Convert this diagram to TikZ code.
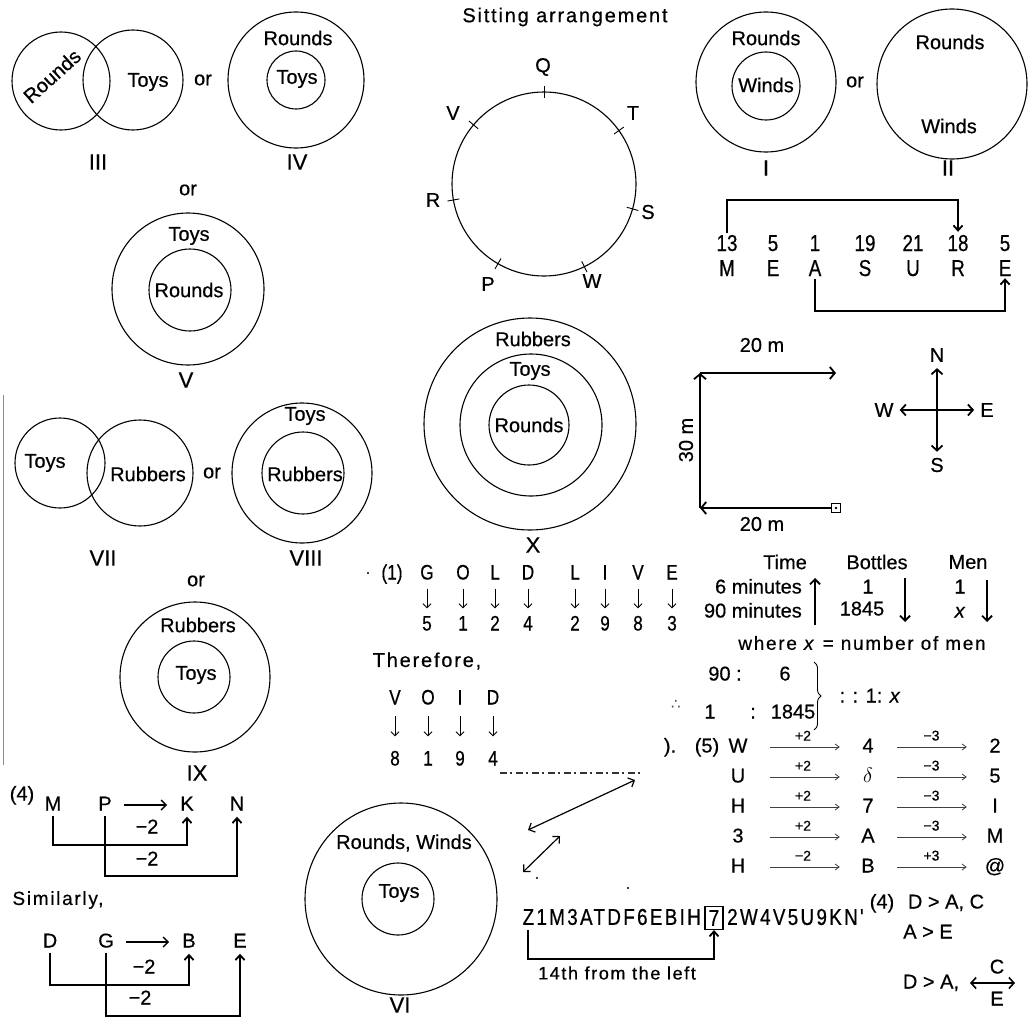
\documentclass[tikz,border=0pt]{standalone}
\usepackage{fontspec}
\setmainfont{Liberation Sans}[FakeBold=0.5]
\newfontfamily\symfont{DejaVu Sans}
\newfontfamily\narrowfont[FakeStretch=0.82,FakeBold=0.5]{Liberation Sans}
\newfontfamily\narrowspaced[FakeStretch=0.82,LetterSpace=10,FakeBold=0.5]{Liberation Sans}
\newfontfamily\spacedfont[LetterSpace=9,FakeBold=0.5]{Liberation Sans}
\usetikzlibrary{arrows.meta,calc,decorations.pathreplacing}

\begin{document}
\begin{tikzpicture}[x=1pt,y=-1pt,
  ring/.style={draw,line width=1.1pt},
  clabel/.style={font=\fontsize{20}{22}\selectfont,inner sep=0pt},
  roman/.style={font=\fontsize{22}{24}\selectfont,inner sep=0pt},
  tx/.style={font=\fontsize{20}{22}\selectfont,inner sep=0pt,text height=14pt,text depth=3pt},
  nar/.style={font=\fontsize{21}{23}\narrowfont,inner sep=0pt,text height=15pt,text depth=0pt},
  big nar/.style={font=\fontsize{23}{25}\narrowfont,inner sep=0pt,text height=16pt,text depth=0pt},
  sm/.style={font=\fontsize{14}{16}\selectfont,inner sep=0pt},
  barb/.style={line width=1.2pt,-{Straight Barb[length=5pt,width=10pt,line width=1.4pt]}},
  elbow/.style={line width=1.3pt,-{Straight Barb[length=5pt,width=9pt,line width=1.8pt]}},
  walk/.style={line width=2.4pt,-{Straight Barb[length=5pt,width=12pt,line width=1.8pt]}},
  dn/.style={line width=0.9pt,-{Straight Barb[length=4pt,width=8pt,line width=0.9pt]}},
  fa/.style={line width=0.8pt,draw=black!75,-{Straight Barb[length=4pt,width=6pt,line width=0.8pt]}},
  col/.style={tx,minimum width=20pt},
]
\fill[white] (0,0) rectangle (1035,1022);
\useasboundingbox (0,0) rectangle (1035,1022);

% ---------- III : overlapping Rounds / Toys
\draw[ring] (61,81) circle[radius=49pt];
\draw[ring] (133,80) circle[radius=50pt];
\node[clabel,rotate=42] (r3) at (52,76) {Rounds};
\node[clabel] (t3) at (148,82) {Toys};
\node[clabel] (or1) at (203,80) {or};
\node[roman] (n3) at (98,162) {III};

% ---------- IV
\draw[ring] (296,80) circle[radius=68pt];
\draw[ring] (296,80) circle[radius=29pt];
\node[clabel] (r4) at (298,38) {Rounds};
\node[clabel] (t4) at (297,79) {Toys};
\node[roman] (n4) at (297,162) {IV};
\node[clabel] (or2) at (188,190) {or};

% ---------- V
\draw[ring] (188,289) circle[radius=76pt];
\draw[ring] (190,290) circle[radius=41pt];
\node[clabel] (t5) at (189,236) {Toys};
\node[clabel] (r5) at (189,290) {Rounds};
\node[roman] (n5) at (186,380) {V};

% ---------- sitting arrangement
\node[font=\fontsize{20}{22}\spacedfont,inner sep=0pt] (stitle) at (565,17) {Sitting arrangement};
\coordinate (sc) at (544,184);
\draw[line width=1.1pt] (sc) circle[radius=92pt];
\foreach \ang in {-90,-35.5,15.7,64,120,170,-140}
  \draw[line width=0.9pt] ($(sc)+(\ang:86)$) -- ($(sc)+(\ang:98)$);
\node[clabel] (sq) at (543,67) {Q};
\node[clabel] (st) at (633,113) {T};
\node[clabel] (ss) at (648,212) {S};
\node[clabel] (sw) at (592,281) {W};
\node[clabel] (sp) at (488,284) {P};
\node[clabel] (sr) at (433,200) {R};
\node[clabel] (sv) at (453,113) {V};

% ---------- I and II
\draw[ring] (766,82) circle[radius=70pt];
\draw[ring] (766,86) circle[radius=34pt];
\node[clabel] (r1) at (766,38) {Rounds};
\node[clabel] (w1) at (766,85) {Winds};
\node[clabel] (or3) at (855,82) {or};
\node[roman] (n1) at (766,168) {I};
\draw[ring] (952,84) circle[radius=75pt];
\node[clabel] (r2) at (950,42) {Rounds};
\node[clabel] (w2) at (949,126) {Winds};
\node[roman] (n2) at (948,168) {II};

% ---------- MEASURE
\foreach \num/\ch/\xx [count=\i] in {13/M/727,5/E/773,1/A/815,19/S/865,21/U/913,18/R/958,5/E/1005}{
  \node[big nar] (mn\i) at (\xx,243) {\num};
  \node[big nar] (ml\i) at (\xx,268) {\ch};
}
\coordinate (mtop) at (958,200);
\coordinate (mbot) at (1005,311);
\draw[elbow,shorten >=3pt,shorten <=2pt] (mn1.north) |- (mtop) -- (mn6.north);
\draw[elbow,shorten >=2pt,shorten <=3pt] (ml3.south) |- (mbot) -- (ml7.south);

% ---------- walk of 20 m, 30 m, 20 m
\node[draw,line width=1pt,minimum size=9pt,inner sep=0pt,fill=white] (mstart) at (836,508) {};
\fill (mstart.center) circle[radius=1.3pt];
\coordinate (mc1) at (700,508);
\coordinate (mc2) at (700,373);
\coordinate (mend) at (836,373);
\draw[walk] (mstart) -- (mc1);
\draw[walk] (mc1) -- (mc2);
\draw[walk] (mc2) -- (mend);
\node[clabel] (d20a) at (762,345) {20 m};
\node[clabel,rotate=90] (d30) at (686,440) {30 m};
\node[clabel] (d20b) at (762,524) {20 m};

% ---------- compass
\coordinate (cc) at (937,410);
\node[clabel] (cn) at (937,355) {N};
\node[clabel] (cs) at (937,465) {S};
\node[clabel] (cw) at (884,410) {W};
\node[clabel] (ce) at (987,410) {E};
\foreach \t in {cn,cs,cw,ce}
  \draw[line width=1.8pt,-{Straight Barb[length=5pt,width=11pt,line width=1.8pt]},shorten >=6pt] (cc) -- (\t);

% ---------- X
\draw[ring] (530,424) circle[radius=106pt];
\draw[ring] (531,425) circle[radius=71pt];
\draw[ring] (529,425) circle[radius=40pt];
\node[clabel] (rx) at (533,339) {Rubbers};
\node[clabel] (tx1) at (530,371) {Toys};
\node[clabel] (rx2) at (529,425) {Rounds};
\node[roman] (nx) at (533,545) {X};

% ---------- VII and VIII
\draw[draw=black!45,line width=0.8pt] (3,395) -- (3,765);
\draw[ring] (60,463) circle[radius=45pt];
\draw[ring] (140,473) circle[radius=53pt];
\node[clabel] (t7) at (45,463) {Toys};
\node[clabel] (r7) at (148,474) {Rubbers};
\node[clabel] (or4) at (212,473) {or};
\node[roman] (n7) at (103,558) {VII};
\draw[ring] (302,473) circle[radius=70pt];
\draw[ring] (303,473) circle[radius=41pt];
\node[clabel] (t8) at (305,416) {Toys};
\node[clabel] (r8) at (305,474) {Rubbers};
\node[roman] (n8) at (306,558) {VIII};
\node[clabel] (or5) at (196,581) {or};

% ---------- IX
\draw[ring] (195,677) circle[radius=75pt];
\draw[ring] (194,677) circle[radius=36pt];
\node[clabel] (r9) at (198,625) {Rubbers};
\node[clabel] (t9) at (196,675) {Toys};
\node[roman] (n9) at (197,773) {IX};

% ---------- GOLD LIVE / VOID coding
\fill (368,573) circle[radius=1.1pt];
\node[nar] (q1) at (392,572) {(1)};
\foreach \ch/\num/\xx [count=\i] in {G/5/427,O/1/463,L/2/495,D/4/528,L/2/575,I/9/605,V/8/638,E/3/672}{
  \node[nar] (g\i) at (\xx,572) {\ch};
  \node[nar] (gd\i) at (\xx,623) {\num};
  \draw[dn,shorten <=9pt,shorten >=7pt] (g\i) -- (gd\i);
}
\node[font=\fontsize{20}{22}\spacedfont,inner sep=0pt] (thf) at (427,661) {Therefore,};
\foreach \ch/\num/\xx [count=\i] in {V/8/395,O/1/428,I/9/460,D/4/493}{
  \node[nar] (v\i) at (\xx,697) {\ch};
  \node[nar] (vd\i) at (\xx,758) {\num};
  \draw[dn,shorten <=11pt,shorten >=14pt] (v\i) -- (vd\i);
}
\draw[draw=black!80,line width=1.3pt,dash pattern=on 7pt off 3pt on 2pt off 4pt] (500,773) -- (640,773);

% ---------- time / bottles / men
\node[clabel] (htime) at (785,562) {Time};
\node[clabel] (hbot) at (877,562) {Bottles};
\node[clabel] (hmen) at (968,562) {Men};
\node[tx,anchor=east] (m6) at (802,588) {6 minutes};
\node[tx,anchor=east] (m90) at (802,612) {90 minutes};
\coordinate (ta) at (815,625);
\coordinate (tb) at (815,578);
\draw[line width=1.3pt,-{Straight Barb[length=5pt,width=10pt,line width=1.8pt]}] (ta) -- (tb);
\node[tx] (b1) at (868,588) {1};
\node[tx] (b2) at (862,610) {1845};
\coordinate (ba) at (905,578);
\coordinate (bb) at (905,622);
\draw[line width=1.3pt,-{Straight Barb[length=5pt,width=10pt,line width=1.8pt]}] (ba) -- (bb);
\node[tx] (e1) at (960,588) {1};
\node[tx] (e2) at (960,612) {\textit{x}};
\coordinate (ea) at (987,580);
\coordinate (eb) at (987,622);
\draw[line width=1.3pt,-{Straight Barb[length=5pt,width=10pt,line width=1.8pt]}] (ea) -- (eb);
\node[font=\fontsize{19}{21}\spacedfont,inner sep=0pt] (where) at (862,643) {where \textit{x} = number of men};

% ---------- proportion
\node[font=\fontsize{15}{17}\symfont,inner sep=0pt,text=black!70] (thr) at (676,705) {∴};
\node[tx] (p90) at (725,675) {90 :};
\node[tx] (p6) at (785,675) {6};
\node[tx] (p1) at (710,713) {1};
\node[tx] (pc) at (753,713) {:};
\node[tx] (p1845) at (793,713) {1845};
\coordinate (brt) at (814,662);
\coordinate (brb) at (814,730);
\draw[decorate,decoration={brace,amplitude=7pt},line width=0.9pt] (brt) -- (brb);
\node[tx] (pr) at (870,697) {: :  1:  \textit{x}};

% ---------- (5) letter shifts
\node[tx] (z0) at (670,747) {).};
\node[tx] (z5) at (707,747) {(5)};
\foreach \a/\b/\c/\p/\q/\yy [count=\i] in {W/4/2/+2/−3/747,U/{$\delta$}/5/+2/−3/777,H/7/I/+2/−3/807,3/A/M/+2/−3/837,H/B/@/−2/+3/867}{
  \node[col] (sa\i) at (738,\yy) {\a};
  \node[col] (sb\i) at (868,\yy) {\b};
  \node[col] (sc\i) at (995,\yy) {\c};
  \draw[fa,shorten <=22pt,shorten >=18pt] (sa\i) -- node[sm,above=6pt]{\p} (sb\i);
  \draw[fa,shorten <=19pt,shorten >=18pt] (sb\i) -- node[sm,above=6pt]{\q} (sc\i);
}

% ---------- (4) D > A
\node[tx] (f4) at (882,903) {(4)};
\node[tx] (f1) at (946,903) {D > A, C};
\node[tx] (f2) at (928,933) {A > E};
\node[tx] (f3) at (931,983) {D > A,};
\coordinate (fl) at (970,983);
\coordinate (fr) at (1015,983);
\draw[line width=1.6pt,{Straight Barb[length=5pt,width=11pt,line width=1.6pt]}-{Straight Barb[length=5pt,width=11pt,line width=1.6pt]}] (fl) -- (fr);
\node[tx] (fc) at (997,968) {C};
\node[tx] (fe) at (997,1000) {E};

% ---------- letter series
\draw[line width=1.2pt,{Straight Barb[length=5pt,width=10pt,line width=1.2pt]}-{Straight Barb[length=5pt,width=10pt,line width=1.2pt]}] (528,830) coordinate (la) -- (635,780) coordinate (lb);
\draw[line width=1.2pt,{Straight Barb[length=5pt,width=10pt,line width=1.2pt]}-{Straight Barb[length=5pt,width=10pt,line width=1.2pt]}] (523,872) coordinate (lc) -- (560,836) coordinate (ld);
\fill (537,878) circle[radius=1.2pt];
\fill (628,888) circle[radius=1.2pt];
\node[font=\fontsize{23}{25}\narrowspaced,inner sep=0pt,anchor=east] (zs1) at (701,917) {Z1M3ATDF6EBIH};
\node[draw,line width=1.1pt,font=\fontsize{23}{25}\narrowfont,inner sep=0pt,minimum width=18pt,minimum height=23pt] (b7) at (714,918) {7};
\node[font=\fontsize{23}{25}\narrowspaced,inner sep=0pt,anchor=west] (zs2) at (727,917) {2W4V5U9KN'};
\coordinate (zst) at (528,930);
\coordinate (zb) at (714,959);
\draw[elbow,line width=1.8pt] (zst) |- (zb) -- (b7.south);
\node[font=\fontsize{18}{20}\spacedfont,inner sep=0pt] (z14) at (617,973) {14th from the left};

% ---------- VI
\draw[ring] (401,899) circle[radius=96pt];
\draw[ring] (398,899) circle[radius=36pt];
\node[clabel] (r6) at (404,843) {Rounds, Winds};
\node[clabel] (t6) at (399,893) {Toys};
\node[roman] (n6) at (400,1005) {VI};

% ---------- (4) M P K N
\node[tx] (h4) at (22,795) {(4)};
\node[tx] (kM) at (53,805) {M};
\node[tx] (kP) at (105,805) {P};
\node[tx] (kK) at (187,805) {K};
\node[tx] (kN) at (237,805) {N};
\draw[barb,shorten <=12pt,shorten >=13pt] (kP) -- (kK);
\coordinate (mk) at (187,845);
\coordinate (pn) at (237,876);
\draw[elbow,shorten <=2pt,shorten >=3pt] (kM.south) |- (mk) -- (kK.south);
\draw[elbow,shorten <=2pt,shorten >=3pt] (kP.south) |- (pn) -- (kN.south);
\node[tx] (km1) at (147,828) {−2};
\node[tx] (km2) at (147,860) {−2};

\node[font=\fontsize{19}{21}\spacedfont,inner sep=0pt] (sim) at (58,900) {Similarly,};

\node[tx] (jD) at (50,942) {D};
\node[tx] (jG) at (106,942) {G};
\node[tx] (jB) at (189,942) {B};
\node[tx] (jE) at (240,942) {E};
\draw[barb,shorten <=12pt,shorten >=13pt] (jG) -- (jB);
\coordinate (db) at (189,985);
\coordinate (ge) at (240,1016);
\draw[elbow,shorten <=2pt,shorten >=3pt] (jD.south) |- (db) -- (jB.south);
\draw[elbow,shorten <=2pt,shorten >=3pt] (jG.south) |- (ge) -- (jE.south);
\node[tx] (jm1) at (144,968) {−2};
\node[tx] (jm2) at (140,999) {−2};
\end{tikzpicture}
\end{document}
